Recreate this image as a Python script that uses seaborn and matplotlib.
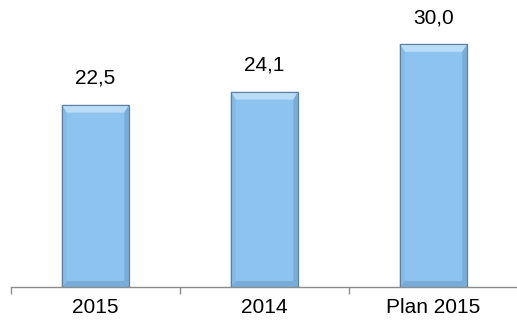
import matplotlib
matplotlib.use("Agg")
import matplotlib.pyplot as plt
from matplotlib.patches import Polygon
import seaborn as sns
import pandas as pd

categories = ["2015", "2014", "Plan 2015"]
values = [22.5, 24.1, 30.0]

sns.set_theme(style="white")
plt.rcParams["font.family"] = ["Liberation Sans", "DejaVu Sans"]

df = pd.DataFrame({"category": categories, "value": values})

fig = plt.figure(figsize=(5.17, 3.2), dpi=100)
ax = fig.add_axes([11 / 517, 33 / 320, 507 / 517, 287 / 320])

sns.barplot(data=df, x="category", y="value", ax=ax, color="#8DC3EF",
            width=0.4, saturation=1, edgecolor="#5F7F9C", linewidth=0.8)

ax.set_xlim(-0.5, 2.5)
ax.set_ylim(0, 35.4)

# bevelled faces on each bar (sizes in pixels converted to data units)
px_x = 1 / 169.0
px_y = 35.4 / 287.0
side = 5 * px_x
top = 8 * px_y
bottom = 6 * px_y
for bar in list(ax.patches):
    x0 = bar.get_x()
    x1 = x0 + bar.get_width()
    h = bar.get_height()
    faces = [
        ([(x0, h), (x1, h), (x1 - side, h - top), (x0 + side, h - top)], "#BADDF7"),
        ([(x0, 0), (x1, 0), (x1 - side, bottom), (x0 + side, bottom)], "#78ABD8"),
        ([(x0, 0), (x0, h), (x0 + side, h - top), (x0 + side, bottom)], "#84BAE6"),
        ([(x1, 0), (x1, h), (x1 - side, h - top), (x1 - side, bottom)], "#78ADDA"),
    ]
    for pts, col in faces:
        ax.add_patch(Polygon(pts, closed=True, facecolor=col, edgecolor="none", zorder=3))
    ax.add_patch(Polygon([(x0, 0), (x0, h), (x1, h), (x1, 0)], closed=True,
                         facecolor="none", edgecolor="#5F7F9C", linewidth=0.8, zorder=4))

for bar, v in zip(ax.patches[:len(values)], values):
    ax.annotate(f"{v:.1f}".replace(".", ","),
                (bar.get_x() + bar.get_width() / 2, v),
                xytext=(0, 12), textcoords="offset points",
                ha="center", va="bottom", fontsize=15, color="#000000")

for s in ["top", "right", "left"]:
    ax.spines[s].set_visible(False)
ax.spines["bottom"].set_color("#8C8C8C")
ax.spines["bottom"].set_linewidth(1.0)

ax.set_yticks([])
ax.set_xlabel("")
ax.set_ylabel("")
ax.set_xticks(range(len(categories)))
ax.set_xticklabels(categories)
ax.set_xticks([-0.5, 0.5, 1.5, 2.5], minor=True)
ax.tick_params(axis="x", which="major", length=0, pad=8, labelsize=15, labelcolor="#000000")
ax.tick_params(axis="x", which="minor", length=5, width=1.0, color="#8C8C8C", bottom=True)

fig.savefig("out.png", dpi=100)
